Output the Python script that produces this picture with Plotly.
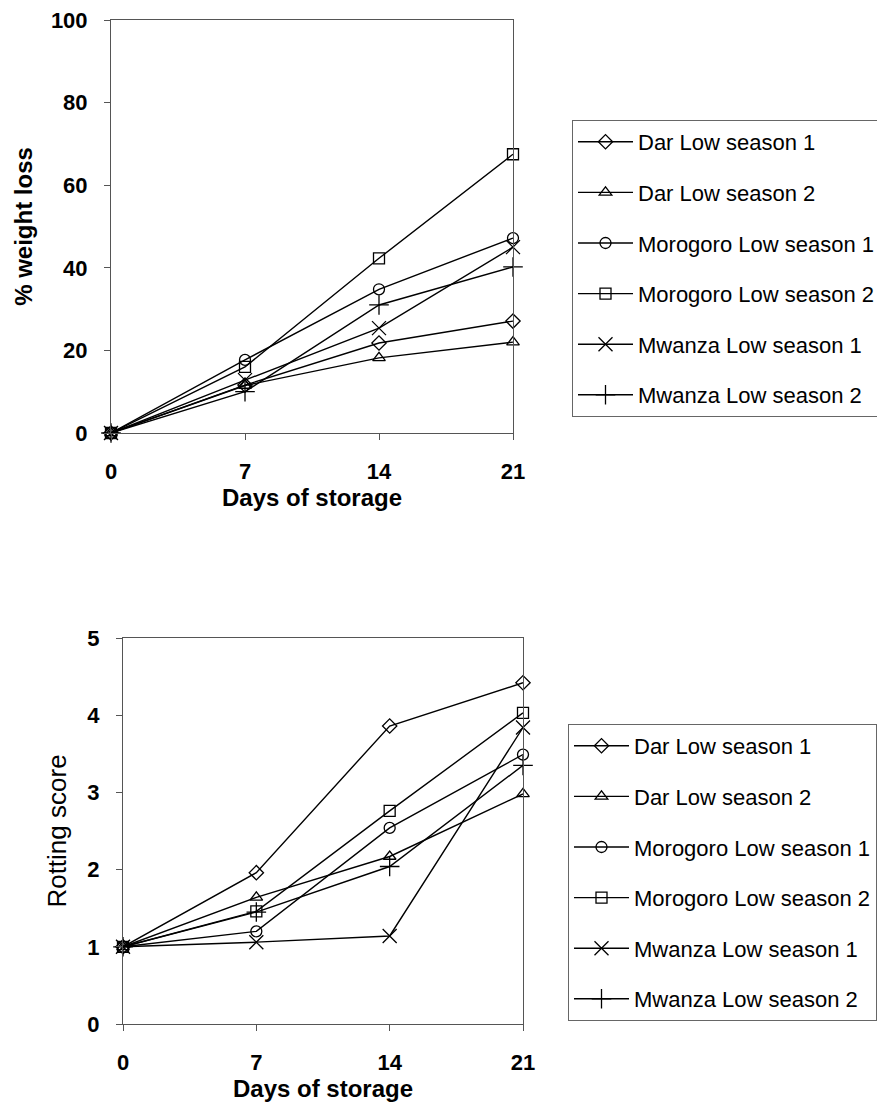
import plotly.graph_objects as go

days = [0, 7, 14, 21]
series_names = ["Dar Low season 1", "Dar Low season 2", "Morogoro Low season 1",
                "Morogoro Low season 2", "Mwanza Low season 1", "Mwanza Low season 2"]

# % weight loss
wl_dar1 = [0, 11.6, 21.8, 27.1]
wl_dar2 = [0, 11.5, 18.2, 22.0]
wl_moro1 = [0, 17.7, 34.8, 47.2]
wl_moro2 = [0, 16.0, 42.3, 67.5]
wl_mwz1 = [0, 12.8, 25.4, 45.0]
wl_mwz2 = [0, 10.0, 31.0, 40.2]

# Rotting score
rs_dar1 = [1, 1.96, 3.86, 4.42]
rs_dar2 = [1, 1.64, 2.17, 2.98]
rs_moro1 = [1, 1.20, 2.54, 3.49]
rs_moro2 = [1, 1.46, 2.76, 4.03]
rs_mwz1 = [1, 1.06, 1.14, 3.84]
rs_mwz2 = [1, 1.45, 2.04, 3.35]

y_ticks_top = [0, 20, 40, 60, 80, 100]
y_ticks_bot = [0, 1, 2, 3, 4, 5]

symbols = ["diamond-open", "triangle-up-open", "circle-open", "square-open",
           "x-thin-open", "cross-thin-open"]
sizes = [11, 11, 11, 11, 14, 14]

top_data = [wl_dar1, wl_dar2, wl_moro1, wl_moro2, wl_mwz1, wl_mwz2]
bot_data = [rs_dar1, rs_dar2, rs_moro1, rs_moro2, rs_mwz1, rs_mwz2]

W, H = 885, 1110
OFF = 8  # page body margin
FONT = "Liberation Sans, Arial, sans-serif"

fig = go.Figure()
for i, (name, vals) in enumerate(zip(series_names, top_data)):
    fig.add_trace(go.Scatter(
        x=days, y=vals, name=name, mode="lines+markers",
        xaxis="x", yaxis="y", legend="legend", legendgroup="t%d" % i,
        line=dict(color="black", width=1.4),
        marker=dict(symbol=symbols[i], size=sizes[i], color="black",
                    line=dict(color="black", width=1.3)),
        cliponaxis=False))
for i, (name, vals) in enumerate(zip(series_names, bot_data)):
    fig.add_trace(go.Scatter(
        x=days, y=vals, name=name, mode="lines+markers",
        xaxis="x2", yaxis="y2", legend="legend2", legendgroup="b%d" % i,
        line=dict(color="black", width=1.4),
        marker=dict(symbol=symbols[i], size=sizes[i], color="black",
                    line=dict(color="black", width=1.3)),
        cliponaxis=False))


def px_x(a, b):
    return [(a - OFF) / W, (b - OFF) / W]


def px_y(top, bottom):
    return [1 - (bottom - OFF) / H, 1 - (top - OFF) / H]


axis_common = dict(
    showgrid=False, zeroline=False, showline=True, linecolor="#555555",
    linewidth=1, mirror=True, ticks="outside", ticklen=6, tickcolor="#555555",
    automargin=False, ticklabeloverflow="allow",
    tickfont=dict(family=FONT, size=22, color="black", weight="bold"),
)

title_bold = dict(family=FONT, size=24, weight="bold", color="black")

fig.update_layout(
    width=W, height=H,
    margin=dict(l=0, r=0, t=0, b=0, autoexpand=False),
    paper_bgcolor="white", plot_bgcolor="white",
    font=dict(family=FONT, color="black"),
    xaxis=dict(domain=px_x(111, 513), anchor="y", range=[0, 21],
               tickvals=days, ticklabelstandoff=13,
               title=dict(text="Days of storage", standoff=0, font=title_bold),
               **axis_common),
    yaxis=dict(domain=px_y(20, 433), anchor="x", range=[0, 100],
               tickvals=y_ticks_top, ticklabelstandoff=12,
               title=dict(text="% weight loss", standoff=11, font=title_bold),
               **axis_common),
    xaxis2=dict(domain=px_x(123, 523), anchor="y2", range=[0, 21],
                tickvals=days, ticklabelstandoff=13,
                title=dict(text="Days of storage", standoff=1, font=title_bold),
                **axis_common),
    yaxis2=dict(domain=px_y(638, 1024), anchor="x2", range=[0, 5],
                tickvals=y_ticks_bot, ticklabelstandoff=12,
                title=dict(text="Rotting score", standoff=13,
                           font=dict(family=FONT, size=26, color="black")),
                **axis_common),
    legend=dict(x=(572 - OFF) / W, y=1 - (120 - OFF) / H, xanchor="left", yanchor="top",
                bordercolor="#666666", borderwidth=1, bgcolor="white",
                font=dict(family=FONT, size=22, color="black"),
                traceorder="grouped", tracegroupgap=19, itemwidth=55),
    legend2=dict(x=(568 - OFF) / W, y=1 - (724 - OFF) / H, xanchor="left", yanchor="top",
                 bordercolor="#666666", borderwidth=1, bgcolor="white",
                 font=dict(family=FONT, size=22, color="black"),
                 traceorder="grouped", tracegroupgap=19, itemwidth=55),
)

fig.write_html("out.html")
